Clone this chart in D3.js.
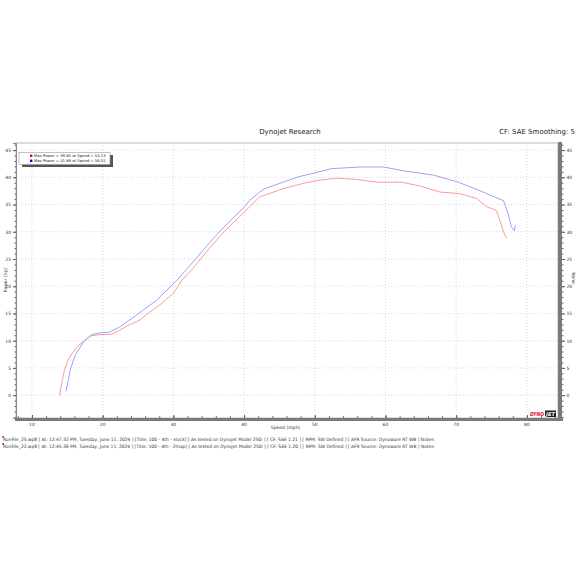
<!DOCTYPE html>
<html><head><meta charset="utf-8">
<script src="https://cdn.jsdelivr.net/npm/d3@7"></script>
<style>body{margin:0;background:#fff}svg{display:block}text{font-family:"DejaVu Sans",Verdana,sans-serif}</style>
</head><body>
<script>
// ---- data ----
const stockSpeed = [13.9,14.2,14.6,15.1,15.7,16.4,17.2,18.4,19.5,21.3,22.2,23.9,25.3,26.7,28.3,30.0,31.2,33.0,35.0,37.0,39.0,40.8,42.2,45.5,48.4,50.3,53.1,55.9,58.8,62.3,64.9,67.7,70.5,72.9,74.3,75.7,76.7,77.1];
const stockPower = [0.0,2.2,4.6,6.4,7.7,8.9,9.8,10.9,11.1,11.2,11.8,13.0,13.8,15.3,16.8,18.7,21.1,23.6,26.8,29.8,32.3,34.6,36.4,37.9,38.9,39.4,39.85,39.6,39.1,39.1,38.4,37.3,37.0,36.1,34.6,33.9,30.0,28.8];
const mapSpeed = [14.8,15.1,15.4,16.1,17.3,18.4,19.5,21.0,22.4,24.8,27.6,30.5,32.0,34.0,36.0,38.0,40.0,40.8,42.7,45.5,47.7,50.0,52.4,56.5,59.7,62.5,66.8,70.1,73.8,76.7,77.4,77.8,78.2,78.4];
const mapPower = [0.7,2.5,4.6,7.3,9.8,11.1,11.4,11.6,12.5,14.7,17.4,21.1,23.3,26.3,29.3,32.0,34.5,35.8,37.8,39.1,40.1,40.8,41.6,41.89,41.9,41.2,40.4,39.2,37.3,35.7,33.1,30.9,30.2,31.2];
const yTicks = [0,5,10,15,20,25,30,35,40,45];
const xTicks = [10,20,30,40,50,60,70,80];
const legendLines = ["Max Power = 39.85 at Speed = 53.13","Max Power = 41.89 at Speed = 56.52"];
const footerLines = [
 "RunFile_25.wp8 [ At: 12:47:32 PM, Tuesday, June 11, 2024 ] [Title: 100 - 4th - stock]  [ As tested on Dynojet Model 250i ] [ CF: SAE 1.21 ] [ RPM: SW Defined ] [ AFR Source: Dynoware RT WB ] Notes:",
 "RunFile_22.wp8 [ At: 12:45:38 PM, Tuesday, June 11, 2024 ] [Title: 100 - 4th - 2map]  [ As tested on Dynojet Model 250i ] [ CF: SAE 1.20 ] [ RPM: SW Defined ] [ AFR Source: Dynoware RT WB ] Notes:"];
const seriesColors = ["#ff9a9a","#a0a0ff"];
const markerColors = ["#e00000","#0000e0"];

const W=580,H=580;
const svg=d3.select("body").append("svg").attr("width",W).attr("height",H);
const L=16,R=558,T=143,B=418;
const x=d3.scaleLinear().domain([7.74,84.4]).range([L,R]);
const y=d3.scaleLinear().domain([-4.2,46.3]).range([B,T]);

// title
svg.append("text").attr("x",290).attr("y",134).attr("text-anchor","middle").attr("font-size",7).attr("fill","#222").text("Dynojet Research");
svg.append("text").attr("x",575).attr("y",134).attr("text-anchor","end").attr("font-size",7).attr("fill","#222").text("CF: SAE Smoothing: 5");

// frame
svg.append("rect").attr("x",L).attr("y",T).attr("width",R-L).attr("height",B-T).attr("fill","#fff").attr("stroke","#bbb").attr("stroke-width",1);

// grid
svg.append("g").selectAll("line").data(yTicks).join("line")
 .attr("x1",L).attr("x2",R).attr("y1",d=>y(d)).attr("y2",d=>y(d))
 .attr("stroke","#d8d8d8").attr("stroke-dasharray","1,2");
svg.append("g").selectAll("line").data(xTicks).join("line")
 .attr("y1",T).attr("y2",B).attr("x1",d=>x(d)).attr("x2",d=>x(d))
 .attr("stroke","#d8d8d8").attr("stroke-dasharray","1,2");

// left axis
const la=svg.append("g").attr("transform",`translate(${L},0)`)
 .call(d3.axisLeft(y).tickValues(yTicks).tickSize(3).tickPadding(2).tickFormat(d3.format("d")));
la.select(".domain").attr("stroke","#888");
la.selectAll("text").attr("font-size",4.5).attr("fill","#333");
la.selectAll(".tick line").attr("stroke","#555");
svg.append("g").attr("transform",`translate(${L},0)`)
 .call(d3.axisLeft(y).ticks(50).tickSize(1.5).tickFormat(""))
 .call(g=>g.select(".domain").remove()).selectAll("line").attr("stroke","#666");

// right axis
svg.append("rect").attr("x",R).attr("y",T-1).attr("width",4).attr("height",B-T+2).attr("fill","#7a7a7a");
const ra=svg.append("g").attr("transform",`translate(${R+4},0)`)
 .call(d3.axisRight(y).tickValues(yTicks).tickSize(3).tickPadding(1.5).tickFormat(d3.format("d")));
ra.select(".domain").remove();
ra.selectAll("text").attr("font-size",4.5).attr("fill","#333");
ra.selectAll(".tick line").attr("stroke","#555");
svg.append("g").attr("transform",`translate(${R+4},0)`)
 .call(d3.axisRight(y).ticks(50).tickSize(1.5).tickFormat(""))
 .call(g=>g.select(".domain").remove()).selectAll("line").attr("stroke","#666");

// bottom axis
svg.append("rect").attr("x",L-1).attr("y",B).attr("width",R-L+6).attr("height",3).attr("fill","#7a7a7a");
const ba=svg.append("g").attr("transform",`translate(0,${B})`)
 .call(d3.axisTop(x).tickValues(xTicks).tickSize(3).tickFormat(""));
ba.select(".domain").remove();
ba.selectAll("line").attr("stroke","#555");
svg.append("g").attr("transform",`translate(0,${B})`)
 .call(d3.axisTop(x).ticks(40).tickSize(1.8).tickFormat(""))
 .call(g=>g.select(".domain").remove()).selectAll("line").attr("stroke","#666");
svg.append("g").selectAll("text").data(xTicks).join("text")
 .attr("x",d=>x(d)).attr("y",B+8).attr("text-anchor","middle").attr("font-size",4.5).attr("fill","#333").text(d=>d);

// axis titles
svg.append("text").attr("x",300).attr("y",429).attr("text-anchor","end").attr("font-size",4.5).attr("fill","#333").text("Speed (mph)");
svg.append("text").attr("transform","translate(7,280) rotate(-90)").attr("text-anchor","middle").attr("font-size",4.5).attr("fill","#333").text("Power (hp)");
svg.append("text").attr("transform","translate(572,278) rotate(90)").attr("text-anchor","middle").attr("font-size",4.5).attr("fill","#333").text("None");

// curves
const line=d3.line().x(d=>x(d[0])).y(d=>y(d[1])).curve(d3.curveLinear);
const series=[d3.zip(stockSpeed,stockPower),d3.zip(mapSpeed,mapPower)];
series.forEach((s,i)=>{
 svg.append("path").datum(s).attr("d",line).attr("fill","none").attr("stroke",seriesColors[i]).attr("stroke-width",1);
});

// legend
const lg=svg.append("g");
lg.append("rect").attr("x",22).attr("y",155).attr("width",91).attr("height",12).attr("fill","#555");
lg.append("rect").attr("x",19).attr("y",152.5).attr("width",91).attr("height",12).attr("fill","#fff").attr("stroke","#999").attr("stroke-width",0.6);
legendLines.forEach((t,i)=>{
 lg.append("rect").attr("x",30).attr("y",154.6+i*5).attr("width",2.4).attr("height",2.4).attr("fill",markerColors[i]);
 lg.append("text").attr("x",34).attr("y",157+i*5).attr("font-size",3.8).attr("fill","#222").text(t);
});

// logo
const logo=svg.append("g");
logo.append("text").attr("x",530).attr("y",416).attr("font-size",5.5).attr("font-weight","bold").attr("font-style","italic").attr("fill","#e0102a").attr("textLength",14).attr("lengthAdjust","spacingAndGlyphs").text("DYNO");
logo.append("rect").attr("x",545).attr("y",410.5).attr("width",11).attr("height",6.5).attr("fill","#1a1a1a");
logo.append("text").attr("x",546).attr("y",416).attr("font-size",5).attr("font-weight","bold").attr("font-style","italic").attr("fill","#fff").attr("textLength",9).attr("lengthAdjust","spacingAndGlyphs").text("JET");

// footer
footerLines.forEach((t,i)=>{
 svg.append("rect").attr("x",2.5).attr("y",436+i*7).attr("width",1.2).attr("height",2).attr("fill",markerColors[i]);
 svg.append("text").attr("x",3).attr("y",441+i*7).attr("font-size",4.6).attr("fill","#333").attr("textLength",432).attr("lengthAdjust","spacingAndGlyphs").text(t);
});
</script>
</body></html>
